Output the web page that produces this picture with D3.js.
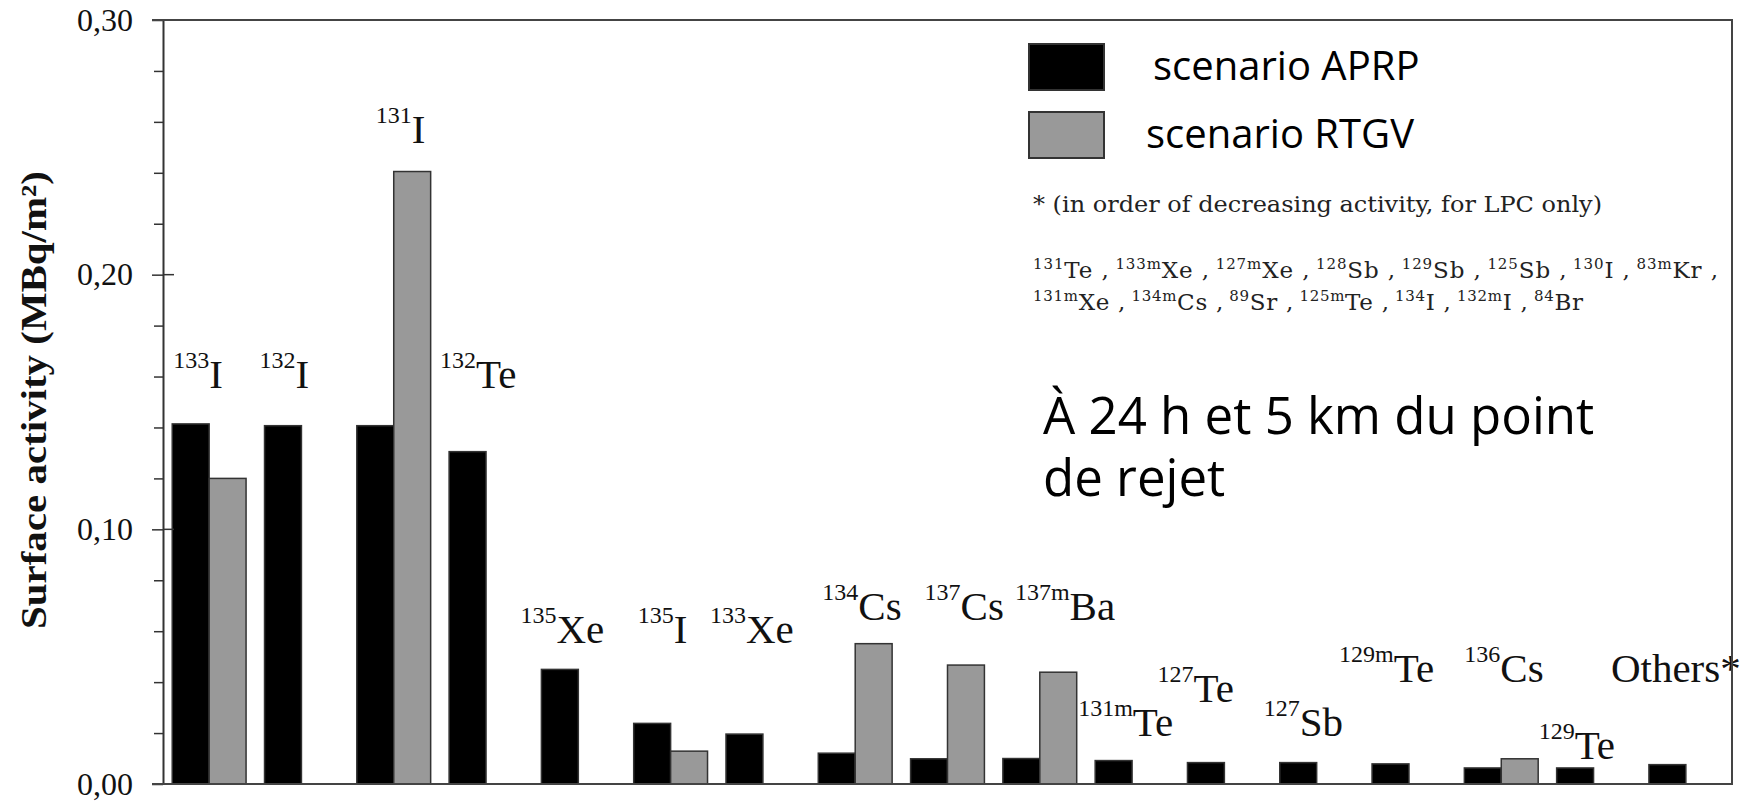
<!DOCTYPE html>
<html>
<head>
<meta charset="utf-8">
<script src="https://cdn.jsdelivr.net/npm/d3@7"></script>
<style>
  body { margin: 0; background: #fff; }
</style>
</head>
<body>
<svg class="viz"></svg>
<script>
var width = 1744,
  height = 802;

// isotopes, in the order of the chart
var isotopes = ["133I", "132I", "131I", "132Te", "135Xe", "135I", "133Xe", "134Cs", "137Cs",
  "137mBa", "131mTe", "127Te", "127Sb", "129mTe", "136Cs", "129Te", "Others*"];
var mass_numbers = ["133", "132", "131", "132", "135", "135", "133", "134", "137",
  "137m", "131m", "127", "127", "129m", "136", "129", ""];
var elements = ["I", "I", "I", "Te", "Xe", "I", "Xe", "Cs", "Cs",
  "Ba", "Te", "Te", "Sb", "Te", "Cs", "Te", "Others*"];

// surface activity (MBq/m²)
var aprp = [0.1414, 0.1407, 0.1407, 0.1305, 0.0450, 0.0238, 0.0196, 0.0121, 0.0099,
  0.0100, 0.0092, 0.0084, 0.0084, 0.0079, 0.0063, 0.0063, 0.0076];
var rtgv = [0.1200, null, 0.2405, null, null, 0.0129, null, 0.0551, 0.0467,
  0.0439, null, null, null, null, 0.0099, null, null];

var series = ["scenario APRP", "scenario RTGV"];
var series_colors = ["#000000", "#999999"];
var major_ticks = [0, 0.10, 0.20, 0.30];
var minor_ticks = [0.02, 0.04, 0.06, 0.08, 0.12, 0.14, 0.16, 0.18, 0.22, 0.24, 0.26, 0.28];

// label placement : offset from the start of the group, and height of the baseline
var label_dx = [1, -5, 19, -9, -21, 4, -16, 4, 14, 12, -17, -30, -16, -33, 0, -18, -38];
var label_level = [0.1555, 0.1555, 0.2517, 0.1555, 0.0554, 0.0554, 0.0554, 0.0644, 0.0644,
  0.0644, 0.0188, 0.0322, 0.0188, 0.0400, 0.0400, 0.0098, 0.0400];

// the "Others*" footnote
var footnote = "* (in order of decreasing activity, for LPC only)";
var others_line1 = [["131", "Te"], ["133m", "Xe"], ["127m", "Xe"], ["128", "Sb"], ["129", "Sb"],
  ["125", "Sb"], ["130", "I"], ["83m", "Kr"]];
var others_line2 = [["131m", "Xe"], ["134m", "Cs"], ["89", "Sr"], ["125m", "Te"], ["134", "I"],
  ["132m", "I"], ["84", "Br"]];
var note = ["À 24 h et 5 km du point", "de rejet"];

var left = 163,
  right = 1732,
  top_y = 20,
  bottom_y = 784;

var viz = d3.select(".viz")
  .attr("width", width)
  .attr("height", height);

var x = d3.scaleBand()
  .domain(isotopes)
  .range([left, right])
  .paddingInner(0.2)
  .paddingOuter(0.1);

var x_series = d3.scaleBand()
  .domain(series)
  .range([0, x.bandwidth()]);

var y = d3.scaleLinear()
  .domain([0, 0.30])
  .range([bottom_y, top_y]);

var fr = d3.formatLocale({decimal: ",", thousands: ".", grouping: [3], currency: ["", ""]});
var fmt = fr.format(".2f");

// bars
var rows = isotopes.map(function(d, i) {
  return {iso: d, values: [aprp[i], rtgv[i]]};
});

var groups = viz.selectAll("g.group")
  .data(rows)
  .enter()
  .append("g")
  .attr("class", "group")
  .attr("transform", function(d) {
    return "translate(" + x(d.iso) + ",0)";
  });

groups.selectAll("rect")
  .data(function(d) {
    return d.values.map(function(v, j) {
      return {s: series[j], v: v, c: series_colors[j]};
    }).filter(function(e) {
      return e.v != null;
    });
  })
  .enter()
  .append("rect")
  .attr("x", d => x_series(d.s))
  .attr("width", x_series.bandwidth())
  .attr("y", d => y(d.v))
  .attr("height", d => y(0) - y(d.v))
  .attr("fill", d => d.c)
  .attr("stroke", "#333")
  .attr("stroke-width", 1.5);

// isotope labels
var labels = viz.selectAll("text.iso")
  .data(isotopes)
  .enter()
  .append("text")
  .attr("class", "iso")
  .attr("x", (d, i) => x(d) + label_dx[i])
  .attr("y", (d, i) => y(label_level[i]))
  .attr("font-family", "'Liberation Serif', 'Times New Roman', serif")
  .attr("fill", "#111");

labels.each(function(d, i) {
  var t = d3.select(this);
  if (mass_numbers[i] != "") {
    t.append("tspan").attr("font-size", 24).attr("dy", -20).text(mass_numbers[i]);
    t.append("tspan").attr("font-size", 41).attr("dy", 20).text(elements[i]);
  } else {
    t.append("tspan").attr("font-size", 41).text(elements[i]);
  }
});

// y axis
var minor_axis = d3.axisLeft(y)
  .tickValues(minor_ticks)
  .tickSize(9)
  .tickSizeOuter(0)
  .tickFormat("");

var major_axis = d3.axisLeft(y)
  .tickValues(major_ticks)
  .tickSize(11)
  .tickSizeOuter(0)
  .tickPadding(19)
  .tickFormat(fmt);

viz.append("g")
  .attr("transform", "translate(" + left + ",0)")
  .call(minor_axis)
  .call(g => g.selectAll("line").attr("stroke", "#333").attr("stroke-width", 1.5));

var yg = viz.append("g")
  .attr("transform", "translate(" + left + ",0)")
  .call(major_axis);
yg.select(".domain").attr("stroke", "#333").attr("stroke-width", 2);
yg.selectAll("line").attr("stroke", "#333").attr("stroke-width", 1.5);
yg.selectAll("text")
  .attr("font-family", "'Liberation Serif', 'Times New Roman', serif")
  .attr("font-size", 32)
  .attr("fill", "#111");

// major ticks also cross into the plot
viz.selectAll("line.inner")
  .data([0.10, 0.20])
  .enter()
  .append("line")
  .attr("x1", left)
  .attr("x2", left + 11)
  .attr("y1", d => y(d))
  .attr("y2", d => y(d))
  .attr("stroke", "#333")
  .attr("stroke-width", 1.5);

// frame
viz.append("path")
  .attr("d", "M" + (left - 11) + "," + y(0.30) + "H" + right + "V" + y(0) + "H" + (left - 11))
  .attr("fill", "none")
  .attr("stroke", "#444")
  .attr("stroke-width", 2);

// y label
viz.append("text")
  .attr("transform", "translate(34," + 400 + ") rotate(-90)")
  .attr("text-anchor", "middle")
  .attr("dominant-baseline", "central")
  .attr("font-family", "'Liberation Serif', 'Times New Roman', serif")
  .attr("font-weight", "bold")
  .attr("font-size", 35)
  .attr("textLength", 458)
  .attr("lengthAdjust", "spacingAndGlyphs")
  .attr("fill", "#111")
  .text("Surface activity (MBq/m²)");

// legend
var legend = viz.selectAll("g.legend")
  .data(series)
  .enter()
  .append("g")
  .attr("class", "legend")
  .attr("transform", (d, i) => "translate(1029," + (44 + i * 68) + ")");

legend.append("rect")
  .attr("width", 75)
  .attr("height", 46)
  .attr("fill", (d, i) => series_colors[i])
  .attr("stroke", "#333")
  .attr("stroke-width", 2);

legend.append("text")
  .attr("x", (d, i) => i == 0 ? 124 : 117)
  .attr("y", 36)
  .attr("font-family", "'Open Sans', sans-serif")
  .attr("font-size", 40)
  .attr("fill", "#000")
  .text(d => d);

viz.append("text")
  .attr("x", 1033)
  .attr("y", 212)
  .attr("font-family", "'DejaVu Serif', serif")
  .attr("font-size", 22)
  .attr("textLength", 569)
  .attr("lengthAdjust", "spacingAndGlyphs")
  .attr("fill", "#222")
  .text(footnote);

function isotope_line(list, yy, len, trailing) {
  var t = viz.append("text")
    .attr("x", 1033)
    .attr("y", yy)
    .attr("font-family", "'DejaVu Serif', serif")
    .attr("textLength", len)
    .attr("lengthAdjust", "spacing")
    .attr("fill", "#222");
  list.forEach(function(p, i) {
    t.append("tspan").attr("font-size", 15).attr("dy", -9).text((i > 0 ? " " : "") + p[0]);
    t.append("tspan").attr("font-size", 23).attr("dy", 9)
      .text(p[1] + (i < list.length - 1 || trailing ? " ," : ""));
  });
}
isotope_line(others_line1, 278, 685, true);
isotope_line(others_line2, 310, 550, false);

// note, two lines in one text
var note_text = viz.append("text")
  .attr("y", 434)
  .attr("font-family", "'Open Sans', sans-serif")
  .attr("font-size", 51)
  .attr("fill", "#000");
note_text.selectAll("tspan")
  .data(note)
  .enter()
  .append("tspan")
  .attr("x", 1043)
  .attr("dy", (d, i) => i == 0 ? 0 : 62)
  .text(d => d);
</script>
</body>
</html>
